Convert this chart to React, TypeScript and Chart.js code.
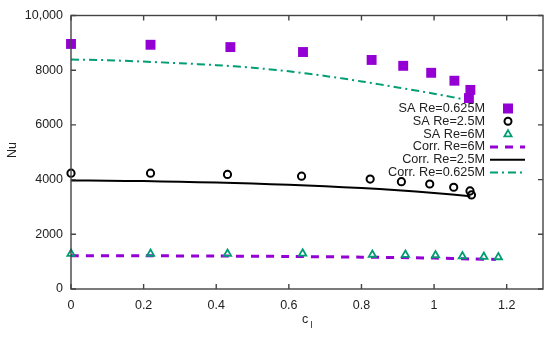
import React, { useEffect, useRef } from "react";
import { Chart, registerables } from "chart.js";

Chart.register(...registerables);

// SA Re=0.625M
const saX625 = [0, 0.219, 0.439, 0.639, 0.828, 0.915, 0.992, 1.056, 1.1, 1.096];
const saY625 = [8960, 8930, 8845, 8665, 8375, 8160, 7905, 7615, 7280, 6980];
// SA Re=2.5M
const saX25 = [0, 0.219, 0.431, 0.635, 0.824, 0.91, 0.988, 1.054, 1.099, 1.103];
const saY25 = [4235, 4235, 4190, 4125, 4020, 3925, 3840, 3720, 3585, 3440];
// SA Re=6M
const saX6 = [0, 0.219, 0.431, 0.638, 0.83, 0.921, 1.004, 1.078, 1.137, 1.177];
const saY6 = [1290, 1290, 1290, 1300, 1255, 1255, 1230, 1200, 1180, 1165];
// Corr. Re=6M
const corrX6 = [0, 0.2, 0.4, 0.6, 0.8, 0.9, 1.0, 1.1, 1.17];
const corrY6 = [1220, 1215, 1205, 1190, 1165, 1150, 1130, 1100, 1080];
// Corr. Re=2.5M
const corrX25 = [0, 0.1, 0.2, 0.3, 0.4, 0.5, 0.6, 0.7, 0.8, 0.9, 1.0, 1.1];
const corrY25 = [3970, 3960, 3945, 3920, 3890, 3855, 3810, 3755, 3690, 3610, 3510, 3395];
// Corr. Re=0.625M
const corrX625 = [0, 0.1, 0.2, 0.3, 0.4, 0.5, 0.6, 0.7, 0.8, 0.9, 1.0, 1.1];
const corrY625 = [8390, 8365, 8315, 8255, 8185, 8090, 7960, 7790, 7590, 7370, 7140, 6890];

const xTicks = [0, 0.2, 0.4, 0.6, 0.8, 1, 1.2];
const yTicks = [0, 2000, 4000, 6000, 8000, 10000];
const yTickLabels = ["0", "2000", "4000", "6000", "8000", "10,000"];

const legendLabels = [
  "SA Re=0.625M",
  "SA Re=2.5M",
  "SA Re=6M",
  "Corr. Re=6M",
  "Corr. Re=2.5M",
  "Corr. Re=0.625M",
];

const PURPLE = "#9400d3";
const GREEN = "#009e73";
const FONT = "Liberation Sans, Arial, sans-serif";

const pts = (xs: number[], ys: number[]) => xs.map((x, i) => ({ x, y: ys[i] }));

const framePlugin = {
  id: "framePlugin",
  afterDraw(chart: any) {
    const { ctx, chartArea } = chart;
    const { left, right, top, bottom } = chartArea;
    const xs = chart.scales.x;
    const ys = chart.scales.y;
    ctx.save();
    ctx.strokeStyle = "#444";
    ctx.lineWidth = 1.4;
    ctx.strokeRect(left, top, right - left, bottom - top);
    const tl = 5;
    ctx.beginPath();
    xTicks.forEach((v) => {
      const px = xs.getPixelForValue(v);
      ctx.moveTo(px, bottom);
      ctx.lineTo(px, bottom - tl);
      ctx.moveTo(px, top);
      ctx.lineTo(px, top + tl);
    });
    yTicks.forEach((v) => {
      const py = ys.getPixelForValue(v);
      ctx.moveTo(left, py);
      ctx.lineTo(left + tl, py);
      ctx.moveTo(right, py);
      ctx.lineTo(right - tl, py);
    });
    ctx.stroke();

    // axis titles
    ctx.fillStyle = "#222";
    ctx.font = `12.5px ${FONT}`;
    ctx.textAlign = "center";
    ctx.textBaseline = "middle";
    ctx.save();
    ctx.translate(13, 150);
    ctx.rotate(-Math.PI / 2);
    ctx.fillText("Nu", 0, 0);
    ctx.restore();
    ctx.fillText("c", 305, 320);
    ctx.font = `9px ${FONT}`;
    ctx.fillText("l", 311.5, 326);

    // legend
    ctx.font = `12.7px ${FONT}`;
    ctx.textAlign = "right";
    const tx = 485;
    const y0 = 108.5;
    const step = 12.8;
    const mx = 508;
    const lx0 = 490;
    const lx1 = 525;
    legendLabels.forEach((lab, i) => {
      const y = y0 + i * step;
      ctx.fillStyle = "#222";
      ctx.fillText(lab, tx, y);
    });
    // SA 0.625 square
    let y = y0;
    ctx.fillStyle = PURPLE;
    ctx.fillRect(mx - 5, y - 5, 10, 10);
    // SA 2.5 circle
    y = y0 + step;
    ctx.strokeStyle = "#000";
    ctx.lineWidth = 2;
    ctx.beginPath();
    ctx.arc(mx, y, 3.5, 0, Math.PI * 2);
    ctx.stroke();
    // SA 6 triangle
    y = y0 + 2 * step;
    ctx.strokeStyle = GREEN;
    ctx.lineWidth = 1.8;
    ctx.beginPath();
    ctx.moveTo(mx, y - 4);
    ctx.lineTo(mx + 3.6, y + 2.2);
    ctx.lineTo(mx - 3.6, y + 2.2);
    ctx.closePath();
    ctx.stroke();
    // Corr 6 dashed purple
    y = y0 + 3 * step;
    ctx.strokeStyle = PURPLE;
    ctx.lineWidth = 3;
    ctx.setLineDash([8, 7]);
    ctx.beginPath();
    ctx.moveTo(lx0, y);
    ctx.lineTo(lx1, y);
    ctx.stroke();
    // Corr 2.5 black
    y = y0 + 4 * step;
    ctx.strokeStyle = "#000";
    ctx.lineWidth = 2;
    ctx.setLineDash([]);
    ctx.beginPath();
    ctx.moveTo(lx0, y);
    ctx.lineTo(lx1, y);
    ctx.stroke();
    // Corr 0.625 dash-dot green
    y = y0 + 5 * step;
    ctx.strokeStyle = GREEN;
    ctx.lineWidth = 2;
    ctx.setLineDash([8, 4, 2, 4]);
    ctx.beginPath();
    ctx.moveTo(lx0, y);
    ctx.lineTo(lx1, y);
    ctx.stroke();
    ctx.restore();
  },
};

export default function App() {
  const ref = useRef<HTMLCanvasElement | null>(null);
  useEffect(() => {
    document.body.style.margin = "0";
    const canvas = ref.current;
    if (!canvas) return;
    const chart = new Chart(canvas, {
      type: "scatter",
      data: {
        datasets: [
          {
            label: legendLabels[0],
            data: pts(saX625, saY625),
            pointStyle: "rect",
            pointRadius: 7,
            backgroundColor: PURPLE,
            borderColor: PURPLE,
            borderWidth: 0,
            showLine: false,
            clip: false,
          },
          {
            label: legendLabels[1],
            data: pts(saX25, saY25),
            pointStyle: "circle",
            pointRadius: 3.6,
            backgroundColor: "rgba(0,0,0,0)",
            borderColor: "#000",
            borderWidth: 2,
            showLine: false,
            clip: false,
          },
          {
            label: legendLabels[2],
            data: pts(saX6, saY6),
            pointStyle: "triangle",
            pointRadius: 4.2,
            backgroundColor: "rgba(0,0,0,0)",
            borderColor: GREEN,
            borderWidth: 1.8,
            showLine: false,
            clip: false,
          },
          {
            label: legendLabels[3],
            data: pts(corrX6, corrY6),
            showLine: true,
            pointRadius: 0,
            borderColor: PURPLE,
            borderWidth: 3,
            borderDash: [8, 7],
            tension: 0.3,
            clip: false,
          },
          {
            label: legendLabels[4],
            data: pts(corrX25, corrY25),
            showLine: true,
            pointRadius: 0,
            borderColor: "#000",
            borderWidth: 2,
            tension: 0.3,
            clip: false,
          },
          {
            label: legendLabels[5],
            data: pts(corrX625, corrY625),
            showLine: true,
            pointRadius: 0,
            borderColor: GREEN,
            borderWidth: 2,
            borderDash: [8, 4, 2, 4],
            tension: 0.3,
            clip: false,
          },
        ],
      },
      plugins: [framePlugin],
      options: {
        animation: false,
        responsive: false,
        maintainAspectRatio: false,
        layout: { padding: { left: 0, right: 7, top: 12, bottom: 0 } },
        plugins: {
          legend: { display: false },
          tooltip: { enabled: false },
        },
        scales: {
          x: {
            type: "linear",
            min: 0,
            max: 1.3,
            afterFit: (s: any) => {
              s.height = 49;
            },
            afterBuildTicks: (s: any) => {
              s.ticks = xTicks.map((v) => ({ value: v }));
            },
            ticks: {
              padding: 9,
              color: "#222",
              font: { family: FONT, size: 12.5 },
              maxRotation: 0,
              callback: (v: any) => String(Math.round(Number(v) * 10) / 10),
            },
            grid: { display: false, drawTicks: false },
            border: { display: false },
          },
          y: {
            type: "linear",
            min: 0,
            max: 10000,
            afterFit: (s: any) => {
              s.width = 71;
            },
            afterBuildTicks: (s: any) => {
              s.ticks = yTicks.map((v) => ({ value: v }));
            },
            ticks: {
              padding: 8,
              color: "#222",
              font: { family: FONT, size: 12.5 },
              callback: (v: any) => {
                const i = yTicks.indexOf(Number(v));
                return i >= 0 ? yTickLabels[i] : "";
              },
            },
            grid: { display: false, drawTicks: false },
            border: { display: false },
          },
        },
      },
    });
    return () => chart.destroy();
  }, []);
  return (
    <div style={{ width: 550, height: 338, background: "#fff" }}>
      <canvas ref={ref} width={550} height={338} style={{ width: 550, height: 338, display: "block" }} />
    </div>
  );
}
